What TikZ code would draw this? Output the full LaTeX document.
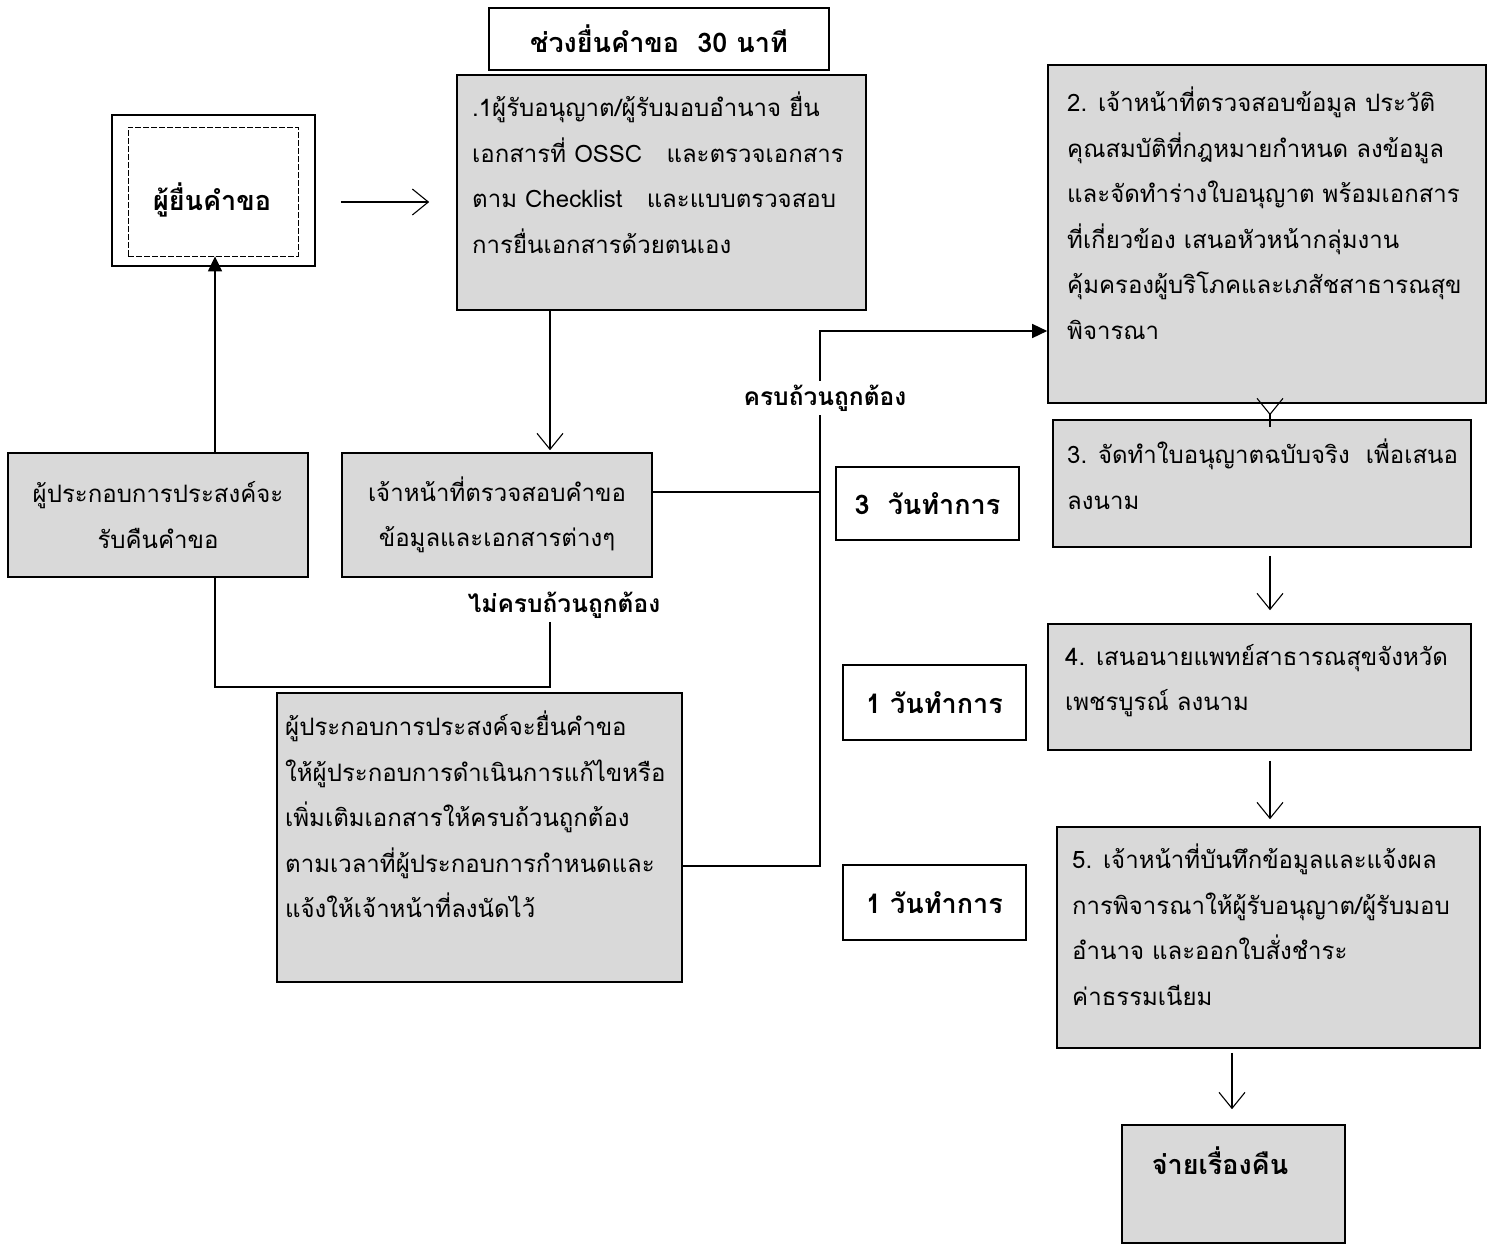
\documentclass[tikz,border=0pt]{standalone}
\usepackage{fontspec}
\newfontfamily\thai[Script=Thai]{Loma}
\usetikzlibrary{arrows.meta,calc}
\begin{document}
\begin{tikzpicture}[x=1pt,y=-1pt,
  every node/.style={font=\thai\fontsize{24}{45.5}\selectfont},
  gbox/.style={draw, line width=1.6pt, fill=black!15, inner sep=0pt},
  wbox/.style={draw, line width=1.6pt, fill=white, inner sep=0pt},
  txt/.style={anchor=north west, inner sep=0pt, align=left},
  ctxt/.style={align=center, inner sep=0pt},
  lbl/.style={font=\thai\bfseries\fontsize{27}{34}\selectfont},
  cond/.style={font=\thai\bfseries\fontsize{24.5}{34}\selectfont},
  conn/.style={line width=1.4pt},
  open/.style={conn, -{Straight Barb[length=16pt,width=26pt,line width=1.1pt]}},
  filled/.style={conn, -{Triangle[length=15pt,width=14pt]}},
]
\useasboundingbox (0,0) rectangle (1489,1245);

% header
\node[wbox, minimum width=340pt, minimum height=62pt, lbl] (head) at (659,39) {ช่วงยื่นคำขอ\ \ 30 นาที};

% step 1
\node[gbox, minimum width=409pt, minimum height=235pt] (s1) at (661.5,192.5) {};
\node[txt] (s1t) at (472,92) {.1ผู้รับอนุญาต/ผู้รับมอบอำนาจ ยื่น\\เอกสารที่ OSSC\ \ \ และตรวจเอกสาร\\ตาม Checklist\ \ \ และแบบตรวจสอบ\\การยื่นเอกสารด้วยตนเอง};

% applicant
\node[wbox, minimum width=203pt, minimum height=151pt] (app) at (213.5,190.5) {};
\node[draw, dash pattern=on 6pt off 2pt, line width=0.8pt, minimum width=170pt, minimum height=129pt, inner sep=0pt] (appin) at (213,191.5) {};
\node[lbl] (appt) at (212,200) {ผู้ยื่นคำขอ};

% return request
\node[gbox, minimum width=300pt, minimum height=124pt, ctxt] (ret) at (158,515) {ผู้ประกอบการประสงค์จะ\\รับคืนคำขอ};

% check
\node[gbox, minimum width=310pt, minimum height=124pt, ctxt] (chk) at (497,515) {เจ้าหน้าที่ตรวจสอบคำขอ\\ข้อมูลและเอกสารต่างๆ};

% fix
\node[gbox, minimum width=405pt, minimum height=289pt] (fix) at (479.5,837.5) {};
\node[txt] (fixt) at (285,711) {ผู้ประกอบการประสงค์จะยื่นคำขอ\\ให้ผู้ประกอบการดำเนินการแก้ไขหรือ\\เพิ่มเติมเอกสารให้ครบถ้วนถูกต้อง\\ตามเวลาที่ผู้ประกอบการกำหนดและ\\แจ้งให้เจ้าหน้าที่ลงนัดไว้};

% labels
\node[cond] (nok) at (564,605) {ไม่ครบถ้วนถูกต้อง};
\node[cond, inner sep=4pt] (ok) at (825,398) {ครบถ้วนถูกต้อง};

% day boxes
\node[wbox, minimum width=183pt, minimum height=73pt, lbl] (d3) at (927.5,503.5) {3\ \ วันทำการ};
\node[wbox, minimum width=183pt, minimum height=75pt, lbl] (d1a) at (934.5,702.5) {1 วันทำการ};
\node[wbox, minimum width=183pt, minimum height=75pt, lbl] (d1b) at (934.5,902.5) {1 วันทำการ};

% right column
\node[gbox, minimum width=438pt, minimum height=338pt] (s2) at (1267,234) {};
\node[txt] (s2t) at (1067,87) {2. เจ้าหน้าที่ตรวจสอบข้อมูล ประวัติ\\คุณสมบัติที่กฎหมายกำหนด ลงข้อมูล\\และจัดทำร่างใบอนุญาต พร้อมเอกสาร\\ที่เกี่ยวข้อง เสนอหัวหน้ากลุ่มงาน\\คุ้มครองผู้บริโภคและเภสัชสาธารณสุข\\พิจารณา};

\node[gbox, minimum width=418pt, minimum height=127pt] (s3) at (1262,483.5) {};
\node[txt] (s3t) at (1067,439) {3. จัดทำใบอนุญาตฉบับจริง\ \ เพื่อเสนอ\\ลงนาม};

\node[gbox, minimum width=423pt, minimum height=126pt] (s4) at (1259.5,687) {};
\node[txt] (s4t) at (1065,644) {4. เสนอนายแพทย์สาธารณสุขจังหวัด\\เพชรบูรณ์ ลงนาม};

\node[gbox, minimum width=423pt, minimum height=221pt] (s5) at (1268.5,937.5) {};
\node[txt] (s5t) at (1072,844) {5. เจ้าหน้าที่บันทึกข้อมูลและแจ้งผล\\การพิจารณาให้ผู้รับอนุญาต/ผู้รับมอบ\\อำนาจ และออกใบสั่งชำระ\\ค่าธรรมเนียม};

\node[gbox, minimum width=223pt, minimum height=118pt] (done) at (1233.5,1184) {};
\node[lbl] (donet) at (1220,1161) {จ่ายเรื่องคืน};

% coordinates
\coordinate (h1) at (0,202);
\coordinate (v1) at (550,0);
\coordinate (v2) at (215,0);
\coordinate (j1) at (820,492);
\coordinate (j2) at (820,331);
\coordinate (j3) at (820,866);
\coordinate (k1) at (550,687);
\coordinate (v3) at (1270,0);
\coordinate (v4) at (1232,0);

% connectors
\draw[open, shorten <=25pt, shorten >=27pt] (app.east |- h1) -- (s1.west |- h1);
\draw[open, shorten >=2pt] (s1.south -| v1) -- (chk.north -| v1);
\draw[filled] (ret.north -| v2) -- (appin.south -| v2);
\draw[conn] (chk.east |- j1) -- (j1);
\draw[conn] (j1 |- ok.south) -- (j3) -- (fix.east |- j3);
\draw[filled] (j1 |- ok.north) -- (j2) -- (s2.west |- j2);
\draw[conn] (nok.south -| k1) -- (k1) -- (k1 -| v2) -- (ret.south -| v2);
\draw[open, shorten <=23pt, shorten >=4pt] (s2.south -| v3) -- (s3.north -| v3);
\draw[open, shorten <=8pt, shorten >=13pt] (s3.south -| v3) -- (s4.north -| v3);
\draw[open, shorten <=10pt, shorten >=7pt] (s4.south -| v3) -- (s5.north -| v3);
\draw[open, shorten <=4pt, shorten >=15pt] (s5.south -| v4) -- (done.north -| v4);
\end{tikzpicture}
\end{document}
